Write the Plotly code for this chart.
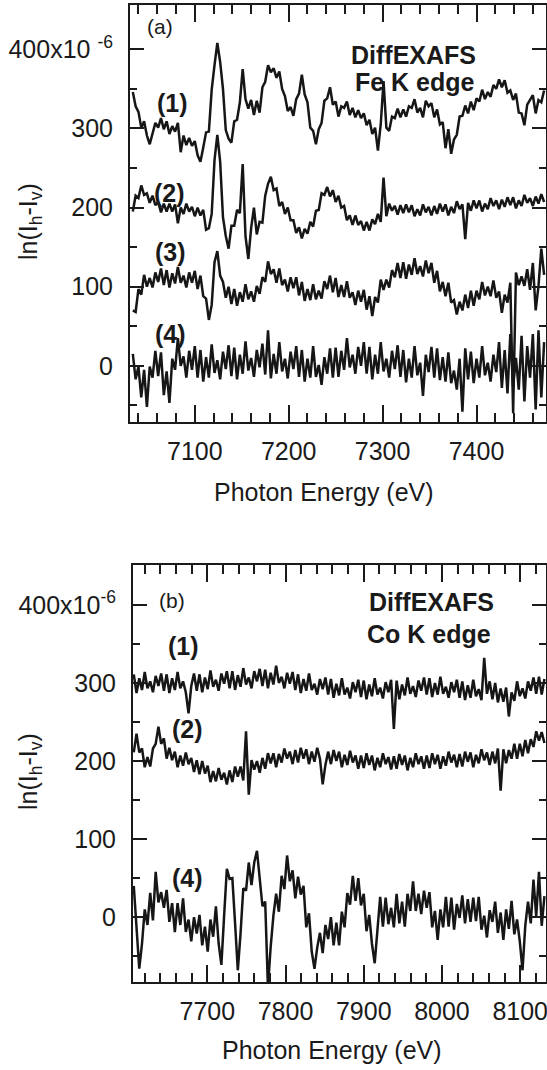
import numpy as np
import plotly.graph_objects as go

W, H = 547, 1070
FONT = "Liberation Sans, Arial, Helvetica, sans-serif"

# ---- Fe K edge DiffEXAFS scans, ln(Ih-Iv) in units of 1e-6 ----
fe_e_start, fe_e_stop = 7034, 7472
fe_1 = [346, 328, 321, 301, 309, 291, 280, 292, 307, 301, 313, 299,
        309, 293, 303, 296, 307, 270, 291, 279, 288, 278, 284, 266,
        258, 276, 295, 296, 349, 380, 408, 384, 350, 298, 287, 282,
        309, 311, 333, 375, 337, 325, 336, 317, 335, 320, 352, 359,
        380, 371, 376, 364, 372, 350, 341, 322, 327, 316, 337, 344,
        368, 343, 333, 301, 297, 280, 299, 307, 335, 338, 352, 330,
        334, 315, 328, 326, 334, 317, 326, 314, 323, 313, 319, 304,
        311, 293, 301, 272, 305, 360, 301, 297, 315, 313, 325, 314,
        324, 315, 328, 326, 337, 320, 326, 314, 335, 328, 332, 314,
        324, 305, 308, 275, 299, 268, 286, 292, 315, 316, 329, 319,
        334, 323, 338, 334, 349, 337, 346, 340, 355, 350, 362, 352,
        361, 345, 348, 336, 344, 320, 319, 304, 330, 336, 342, 319,
        336, 333, 348]
fe_2 = [195, 215, 212, 228, 216, 218, 206, 215, 203, 207, 194, 205,
        195, 205, 195, 204, 180, 200, 192, 205, 195, 201, 189, 200,
        190, 197, 172, 174, 192, 260, 292, 258, 188, 164, 148, 177,
        177, 197, 193, 255, 164, 135, 174, 200, 166, 182, 181, 215,
        230, 239, 222, 224, 202, 207, 192, 200, 184, 184, 168, 175,
        161, 173, 167, 182, 176, 196, 197, 218, 216, 226, 214, 222,
        207, 215, 200, 202, 184, 190, 178, 190, 178, 183, 171, 182,
        171, 185, 179, 192, 182, 238, 189, 205, 196, 202, 191, 203,
        193, 204, 194, 203, 189, 198, 190, 204, 194, 201, 190, 202,
        192, 205, 195, 204, 190, 201, 193, 208, 198, 204, 160, 206,
        196, 209, 199, 209, 195, 205, 198, 212, 202, 209, 198, 210,
        201, 213, 203, 213, 199, 209, 202, 216, 206, 212, 202, 214,
        205, 217, 207]
fe_3 = [70, 68, 97, 90, 115, 100, 111, 99, 118, 106, 123, 102,
        121, 99, 117, 104, 125, 105, 114, 99, 118, 105, 120, 97,
        114, 88, 85, 58, 77, 131, 145, 114, 106, 86, 100, 78,
        97, 76, 93, 81, 103, 84, 94, 81, 101, 91, 112, 106,
        132, 116, 122, 105, 123, 102, 109, 94, 112, 98, 112, 89,
        106, 82, 97, 83, 103, 84, 95, 85, 107, 97, 114, 93,
        111, 87, 102, 87, 107, 86, 93, 77, 95, 81, 96, 71,
        88, 63, 87, 80, 109, 96, 109, 99, 121, 112, 130, 111,
        131, 110, 128, 115, 136, 116, 126, 113, 133, 117, 130, 105,
        120, 94, 106, 88, 105, 80, 83, 65, 81, 70, 90, 73,
        95, 76, 95, 84, 106, 89, 100, 88, 108, 86, 94, 67,
        90, 80, 105, -60, 118, 102, 113, 101, 122, 96, 130, 70,
        101, 148, 115]
fe_4 = [15, -17, -1, -40, -5, -52, -1, -15, 19, -13, 17, -37,
        -7, -47, 9, -5, 35, 0, 12, -15, 19, -5, 25, -15,
        20, -20, 11, -15, 27, -9, 7, -17, 18, -4, 26, -13,
        23, -17, 14, -10, 31, -6, 10, -14, 20, -2, 28, -11,
        45, -16, 15, -10, 30, -7, 9, -16, 18, -4, 25, -14,
        20, -20, 9, -15, 25, -14, 1, -24, 11, -10, 22, -15,
        23, -14, 19, -5, 35, -2, 14, -10, 24, 0, 30, -10,
        24, -17, 14, -10, 30, -7, 9, -15, 19, -4, 26, -14,
        20, -21, 9, -15, 25, -12, 4, -38, 14, -8, 24, -15,
        22, -18, 11, -20, 17, -22, -6, -30, 9, -58, 22, -17,
        18, -22, 9, -15, 25, -12, 4, -20, 14, -8, 30, -28,
        20, -35, 40, -25, 10, -30, 38, -45, 25, -15, 40, -55,
        45, -40, 30]

# ---- Co K edge DiffEXAFS scans ----
co_e_start, co_e_stop = 7606, 8131
co_1 = [311, 287, 306, 291, 314, 293, 302, 288, 309, 296, 312, 290,
        311, 287, 306, 291, 314, 293, 302, 288, 261, 296, 312, 290,
        311, 288, 307, 292, 316, 295, 304, 290, 312, 299, 315, 293,
        315, 291, 310, 295, 319, 298, 307, 293, 315, 302, 318, 296,
        317, 293, 313, 298, 322, 300, 308, 293, 313, 299, 314, 291,
        311, 287, 305, 290, 312, 291, 299, 285, 305, 292, 307, 285,
        305, 281, 299, 284, 306, 285, 294, 280, 301, 288, 304, 282,
        303, 279, 298, 283, 306, 285, 294, 280, 301, 288, 304, 241,
        303, 279, 298, 284, 307, 286, 296, 282, 303, 290, 307, 285,
        306, 282, 300, 285, 308, 286, 295, 281, 301, 288, 304, 281,
        302, 278, 297, 281, 304, 283, 292, 278, 332, 286, 302, 279,
        300, 275, 293, 276, 294, 257, 288, 277, 302, 283, 293, 280,
        302, 290, 307, 286, 308, 285, 305]
co_2 = [211, 235, 211, 216, 192, 205, 193, 216, 222, 244, 222, 229,
        203, 217, 201, 212, 192, 207, 194, 211, 196, 204, 186, 201,
        183, 200, 184, 194, 173, 187, 174, 191, 176, 185, 170, 188,
        173, 193, 180, 193, 175, 238, 157, 201, 189, 200, 185, 204,
        190, 210, 197, 210, 192, 209, 198, 216, 203, 212, 196, 214,
        198, 217, 203, 215, 196, 212, 199, 217, 203, 170, 195, 212,
        196, 214, 200, 212, 192, 208, 195, 213, 198, 207, 190, 207,
        191, 210, 195, 207, 188, 204, 192, 210, 196, 205, 189, 206,
        190, 209, 195, 207, 188, 204, 192, 210, 196, 206, 190, 207,
        191, 210, 196, 208, 190, 206, 194, 212, 198, 208, 192, 209,
        193, 212, 199, 211, 192, 208, 197, 215, 201, 211, 195, 212,
        197, 216, 162, 215, 197, 214, 203, 222, 203, 222, 206, 227,
        210, 228, 218, 238, 226, 237, 223]
co_4 = [40, -20, -66, -34, 10, -10, 31, -4, 58, 19, 32, 12,
        35, -6, 18, -19, 18, -10, 24, -19, -3, -31, 0, -21,
        3, -36, -12, -44, -3, -25, 14, -34, -61, 2, 62, 49,
        50, -8, -68, -21, 37, 34, 70, 41, 70, 85, 52, 14,
        20, -90, -38, 2, 30, 7, 53, 36, 79, 46, 60, 24,
        52, 29, 40, -13, 5, -44, -66, -39, -20, -46, -10, -28,
        0, -36, -7, -36, 7, -13, 31, 16, 53, 21, 50, 15,
        30, -18, 3, -34, -59, -15, 26, -12, 25, -9, 12, -13,
        30, -8, 20, -12, 30, 8, 46, 8, 30, 4, 34, 12,
        32, -13, 8, -29, 10, -13, 26, -12, 25, -16, 17, -1,
        28, -8, 23, -6, 25, -5, 26, -16, 2, -26, 9, -6,
        20, -20, 6, -29, 10, -15, 21, -22, -3, -31, -68, -11,
        20, -8, 48, 1, 58, -11, 27]

y_tickvals = [0, 100, 200, 300, 400]
y_minorvals = [-50, 50, 150, 250, 350]
fe_ticktext = ["0", "100", "200", "300", "400x10 <sup>-6</sup>"]
co_ticktext = ["0", "100", "200", "300", "400x10<sup>-6</sup>"]

fe_x = np.linspace(fe_e_start, fe_e_stop, len(fe_1))
co_x = np.linspace(co_e_start, co_e_stop, len(co_1))


def fx(p):
    return p / W


def fy(p):
    return 1 - p / H


fig = go.Figure()
line = dict(color="#161616", width=2.5)
for ys in (fe_1, fe_2, fe_3, fe_4):
    fig.add_trace(go.Scatter(x=fe_x, y=ys, mode="lines", line=line,
                             xaxis="x", yaxis="y", showlegend=False))
for ys in (co_1, co_2, co_4):
    fig.add_trace(go.Scatter(x=co_x, y=ys, mode="lines", line=line,
                             xaxis="x2", yaxis="y2", showlegend=False))

tickfont = dict(family=FONT, size=25, color="#1a1a1a")
xcommon = dict(
    showgrid=False, zeroline=False, showline=True, linewidth=2,
    linecolor="#1a1a1a", mirror="ticks", ticks="inside", ticklen=17,
    tickwidth=1.8, tickcolor="#1a1a1a", dtick=100, tick0=7000,
    tickfont=tickfont, ticklabelstandoff=6, automargin=False,
    ticklabeloverflow="allow",
    minor=dict(ticks="inside", ticklen=9, tickwidth=1.5,
               tickcolor="#1a1a1a", dtick=20),
)
ycommon = dict(
    showgrid=False, zeroline=False, showline=True, linewidth=2,
    linecolor="#1a1a1a", mirror="ticks", ticks="inside", ticklen=14,
    tickwidth=1.8, tickcolor="#1a1a1a", tickvals=y_tickvals,
    tickfont=tickfont, ticklabelstandoff=10, automargin=False,
    ticklabeloverflow="allow",
    minor=dict(ticks="inside", ticklen=7, tickwidth=1.5,
               tickcolor="#1a1a1a", tickvals=y_minorvals),
)

fig.update_layout(
    width=W, height=H,
    margin=dict(l=0, r=0, t=0, b=0),
    paper_bgcolor="white", plot_bgcolor="white",
    xaxis=dict(xcommon, domain=[fx(130), fx(546)], range=[7031, 7474],
               anchor="y"),
    yaxis=dict(ycommon, domain=[fy(422), fy(5)], range=[-71, 456],
               ticktext=fe_ticktext, anchor="x"),
    xaxis2=dict(xcommon, domain=[fx(133), fx(546)], range=[7605, 8133],
                anchor="y2"),
    yaxis2=dict(ycommon, domain=[fy(982), fy(565)], range=[-83, 451],
                ticktext=co_ticktext, anchor="x2"),
)

notes = [
    ("(a)", 160, 27, 21, False),
    ("DiffEXAFS", 413, 55, 25, True),
    ("Fe K edge", 415, 82, 25, True),
    ("(1)", 172, 103, 25, True),
    ("(2)", 169, 193, 25, True),
    ("(3)", 170, 252, 25, True),
    ("(4)", 170, 334, 25, True),
    ("(b)", 172, 600, 21, False),
    ("DiffEXAFS", 431, 602, 25, True),
    ("Co K edge", 429, 634, 25, True),
    ("(1)", 183, 646, 25, True),
    ("(2)", 187, 729, 25, True),
    ("(4)", 187, 878, 25, True),
    ("Photon Energy (eV)", 324, 492, 25, False),
    ("Photon Energy (eV)", 332, 1050, 25, False),
]
for text, x, y, size, bold in notes:
    fig.add_annotation(
        text=f"<b>{text}</b>" if bold else text,
        x=fx(x), y=fy(y), xref="paper", yref="paper",
        xanchor="center", yanchor="middle", showarrow=False,
        font=dict(family=FONT, size=size, color="#1a1a1a"),
    )

ytitle = "ln(I<sub>h</sub>-I<sub>v</sub>)"
for y in (222, 772):
    fig.add_annotation(
        text=ytitle, x=fx(30), y=fy(y), xref="paper", yref="paper",
        xanchor="center", yanchor="middle", showarrow=False, textangle=-90,
        font=dict(family=FONT, size=25, color="#1a1a1a"),
    )

fig.write_html("out.html")
